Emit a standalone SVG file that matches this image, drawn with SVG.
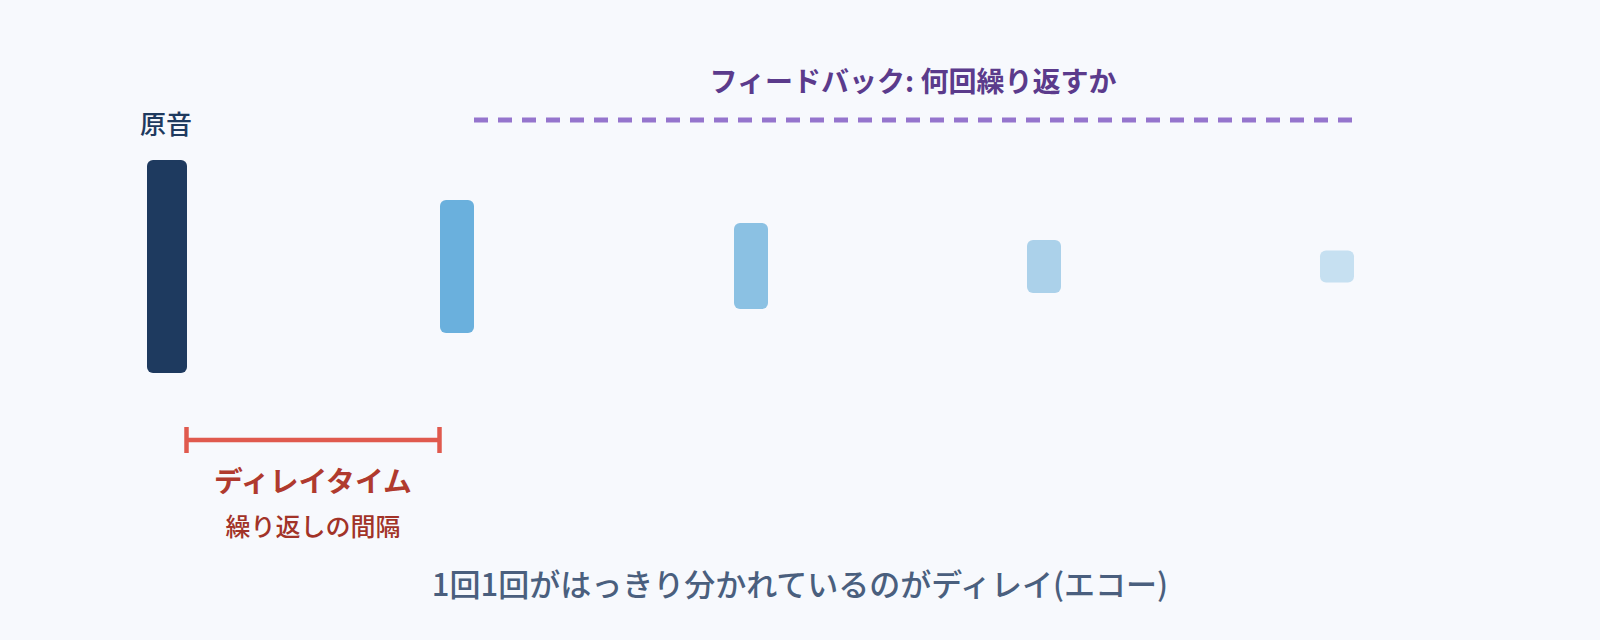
<svg xmlns="http://www.w3.org/2000/svg" width="1600" height="640" viewBox="0 0 1600 640">
  <style>
    text { font-family: "Noto Sans CJK JP", "Noto Sans", sans-serif; }
    .title { font-size: 28px; font-weight: 700; fill: #5b3b8c; }
    .label { font-size: 26px; font-weight: 500; fill: #1e3a5f; }
    .dt { font-size: 28.8px; font-weight: 700; fill: #b03a2e; }
    .dtsub { font-size: 25px; font-weight: 500; fill: #a23328; }
    .caption { font-size: 31px; font-weight: 500; fill: #4a5f7e; }
  </style>
  <rect width="1600" height="640" fill="#f7f9fd"/>

  <g id="feedback">
    <text class="title" x="913" y="92" text-anchor="middle">フィードバック: 何回繰り返すか</text>
  </g>

  <g id="connectors">
    <line x1="474" y1="120" x2="1352" y2="120" stroke="#9575cd" stroke-width="5" stroke-dasharray="14 10"/>
    <g stroke="#e05a4e" stroke-width="4.5" fill="none">
      <line x1="186.5" y1="440" x2="439.5" y2="440"/>
      <line x1="186.5" y1="427" x2="186.5" y2="453"/>
      <line x1="439.5" y1="427" x2="439.5" y2="453"/>
    </g>
  </g>

  <g id="original">
    <text class="label" x="166" y="134" text-anchor="middle">原音</text>
    <rect x="147" y="160" width="40" height="213" rx="6" fill="#1e3a5f"/>
  </g>
  <g id="echo1"><rect x="440" y="200" width="34" height="133" rx="6" fill="#6ab0dd"/></g>
  <g id="echo2"><rect x="734" y="223" width="34" height="86" rx="6" fill="#8bc1e3"/></g>
  <g id="echo3"><rect x="1027" y="240" width="34" height="53" rx="6" fill="#abd1ea"/></g>
  <g id="echo4"><rect x="1320" y="250.5" width="34" height="32" rx="6" fill="#c6e0f1"/></g>

  <g id="delaytime">
    <text class="dt" x="313" y="492" text-anchor="middle">ディレイタイム</text>
    <text class="dtsub" x="313" y="536" text-anchor="middle">繰り返しの間隔</text>
  </g>

  <g id="caption">
    <text class="caption" x="800" y="596" text-anchor="middle">1回1回がはっきり分かれているのがディレイ(エコー)</text>
  </g>
</svg>
